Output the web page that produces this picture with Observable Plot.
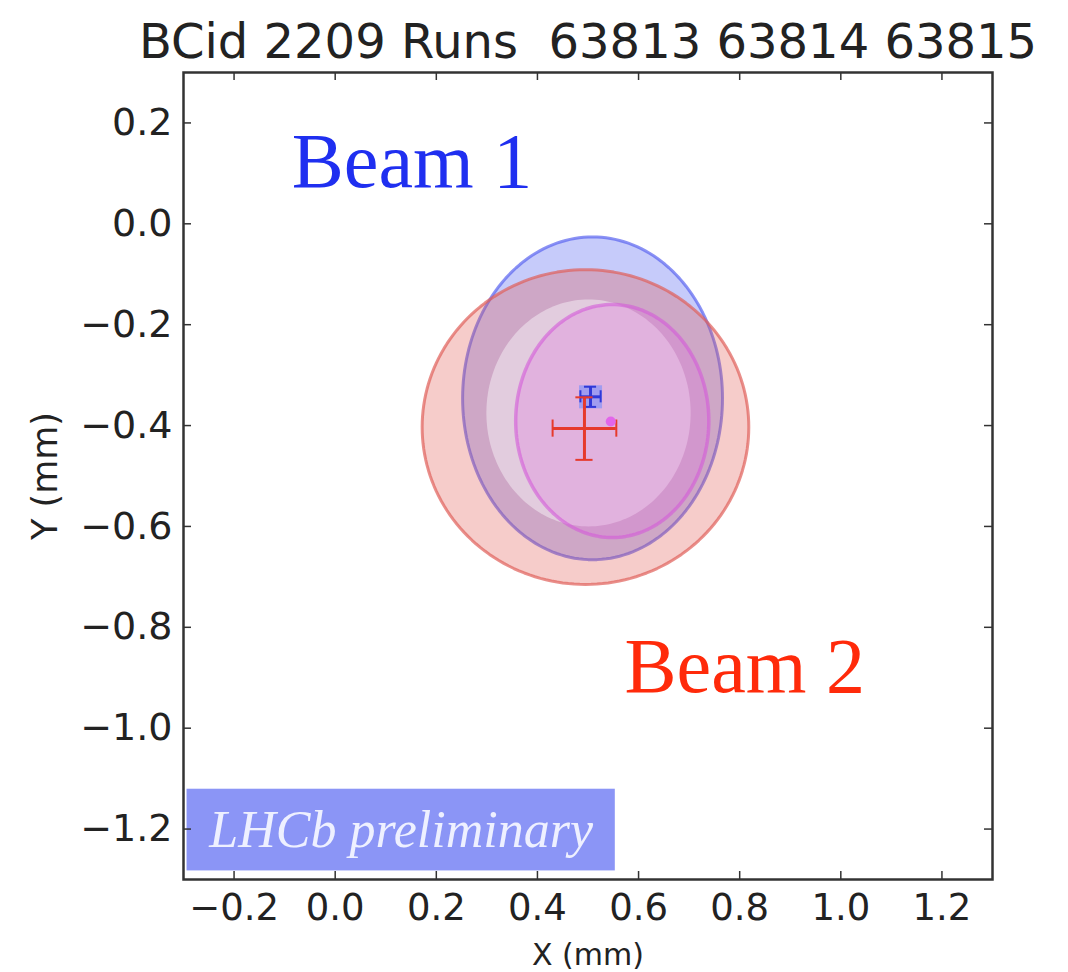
<!DOCTYPE html>
<html><head><meta charset="utf-8">
<script src="https://cdn.jsdelivr.net/npm/d3@7"></script>
<script src="https://cdn.jsdelivr.net/npm/@observablehq/plot@0.6"></script>
<style>
html,body{margin:0;padding:0;background:#fff;}
#chart{width:1068px;height:972px;}
</style></head><body><div id="chart"></div>
<script>
// ---- data ----
const title = "BCid 2209 Runs  63813 63814 63815";
const xLabel = "X (mm)";
const yLabel = "Y (mm)";
const xTicks = [-0.2, 0.0, 0.2, 0.4, 0.6, 0.8, 1.0, 1.2];
const yTicks = [-1.2, -1.0, -0.8, -0.6, -0.4, -0.2, 0.0, 0.2];

// beam spot ellipses (mm)
const spotNames = ["Beam 1", "Beam 2", "Luminous core", "Luminous region"];
const spotCx = [0.509, 0.495, 0.501, 0.548];
const spotCy = [-0.346, -0.403, -0.375, -0.391];
const spotRx = [0.257, 0.323, 0.202, 0.191];
const spotRy = [0.320, 0.312, 0.225, 0.231];

// fitted centres with errors (mm)
const centerNames = ["Beam 1", "Beam 2", "Luminous region"];
const centerX = [0.505, 0.493, 0.545];
const centerY = [-0.343, -0.406, -0.392];
const centerXErr = [0.020, 0.063, 0];
const centerYErr = [0.020, 0.062, 0];

// annotations (mm)
const beamLabels = ["Beam 1", "Beam 2"];
const beamLabelX = [0.152, 0.81];
const beamLabelY = [0.123, -0.879];
const stampText = "LHCb preliminary";
const stampX = [-0.293, 0.554];
const stampY = [-1.283, -1.121];

// ---- build ----
const outline = i => d3.range(181).map(k => {
  const t = 2 * Math.PI * k / 180;
  return {x: spotCx[i] + spotRx[i] * Math.cos(t), y: spotCy[i] + spotRy[i] * Math.sin(t)};
});
const centers = centerNames.map((n, i) => ({name: n, x: centerX[i], y: centerY[i], xe: centerXErr[i], ye: centerYErr[i]}));
const b1 = centers.filter(d => d.name === "Beam 1");
const b2 = centers.filter(d => d.name === "Beam 2");
const lum = centers.filter(d => d.name === "Luminous region");
const labels = beamLabels.map((t, i) => ({text: t, x: beamLabelX[i], y: beamLabelY[i]}));
const stamp = [{text: stampText, x1: stampX[0], x2: stampX[1], y1: stampY[0], y2: stampY[1]}];

const W = 1068, H = 972, mL = 183, mR = 76, mT = 72, mB = 93;
const innerW = W - mL - mR, innerH = H - mT - mB;
const fmt = d3.format(".1f");

function errorCross(data, color, cap, width) {
  return [
    Plot.ruleY(data, {y: "y", x1: d => d.x - d.xe, x2: d => d.x + d.xe, stroke: color, strokeWidth: width}),
    Plot.ruleX(data, {x: "x", y1: d => d.y - d.ye, y2: d => d.y + d.ye, stroke: color, strokeWidth: width}),
    Plot.ruleX(data, {x: d => d.x - d.xe, y1: d => d.y - cap, y2: d => d.y + cap, stroke: color, strokeWidth: 2}),
    Plot.ruleX(data, {x: d => d.x + d.xe, y1: d => d.y - cap, y2: d => d.y + cap, stroke: color, strokeWidth: 2}),
    Plot.ruleY(data, {y: d => d.y - d.ye, x1: d => d.x - cap, x2: d => d.x + cap, stroke: color, strokeWidth: 2}),
    Plot.ruleY(data, {y: d => d.y + d.ye, x1: d => d.x - cap, x2: d => d.x + cap, stroke: color, strokeWidth: 2})
  ];
}

const plot = Plot.plot({
  width: W, height: H,
  marginLeft: mL, marginRight: mR, marginTop: mT, marginBottom: mB,
  style: {fontFamily: "DejaVu Sans", background: "#fff", overflow: "visible"},
  x: {domain: [-0.3, 1.3]},
  y: {domain: [-1.3, 0.3]},
  marks: [
    // beam 1 spot
    Plot.line(outline(0), {x: "x", y: "y", curve: "linear-closed", fill: "#4f5cf0", fillOpacity: 0.32, stroke: "#5a64f0", strokeOpacity: 0.7, strokeWidth: 3}),
    // beam 2 spot
    Plot.line(outline(1), {x: "x", y: "y", curve: "linear-closed", fill: "#e2564f", fillOpacity: 0.3, stroke: "#e0605a", strokeOpacity: 0.7, strokeWidth: 3}),
    // luminous core
    Plot.line(outline(2), {x: "x", y: "y", curve: "linear-closed", fill: "#ffffff", fillOpacity: 0.42, stroke: "none"}),
    // luminous region
    Plot.line(outline(3), {x: "x", y: "y", curve: "linear-closed", fill: "#e070e0", fillOpacity: 0.28, stroke: "#d45ad8", strokeOpacity: 0.6, strokeWidth: 3.5}),
    // centres
    Plot.dot(b1, {x: "x", y: "y", symbol: "square", r: 13, fill: "#9096f4", fillOpacity: 0.8}),
    ...errorCross(b1, "#3038d8", 0.012, 3),
    ...errorCross(b2, "#e63a2c", 0.017, 3),
    Plot.dot(lum, {x: "x", y: "y", r: 5, fill: "#e266ea"}),
    // beam labels
    Plot.text(labels, {x: "x", y: "y", text: "text", fontFamily: "Liberation Serif", fontSize: 78,
      fill: (d) => d.text === "Beam 1" ? "#1f2ff0" : "#ff2a0a", lineAnchor: "middle"}),
    // LHCb stamp
    Plot.rect(stamp, {x1: "x1", x2: "x2", y1: "y1", y2: "y2", fill: "#8b95f6"}),
    Plot.text(stamp, {x: d => (d.x1 + d.x2) / 2, y: d => (d.y1 + d.y2) / 2, text: "text", fontFamily: "Liberation Serif",
      fontStyle: "italic", fontSize: 52, fill: "#eef0ff", lineAnchor: "middle"}),
    // ticks inside on all sides
    Plot.tickX(xTicks, {x: d => d, insetTop: innerH - 8, stroke: "#333", strokeWidth: 1.5}),
    Plot.tickX(xTicks, {x: d => d, insetBottom: innerH - 8, stroke: "#333", strokeWidth: 1.5}),
    Plot.tickY(yTicks, {y: d => d, insetRight: innerW - 8, stroke: "#333", strokeWidth: 1.5}),
    Plot.tickY(yTicks, {y: d => d, insetLeft: innerW - 8, stroke: "#333", strokeWidth: 1.5}),
    Plot.frame({stroke: "#333", strokeWidth: 2.5}),
    Plot.axisX(xTicks, {tickSize: 0, tickPadding: 14, tickFormat: fmt, fontSize: 37, label: null, fill: "#222"}),
    Plot.axisY(yTicks, {tickSize: 0, tickPadding: 11, tickFormat: fmt, fontSize: 38, label: null, fill: "#222"}),
    // titles
    Plot.text([title], {frameAnchor: "top", dy: -30, text: d => d, fontSize: 48, fill: "#222", lineAnchor: "middle"}),
    Plot.text([xLabel], {frameAnchor: "bottom", dy: 76, text: d => d, fontSize: 30, fill: "#222", lineAnchor: "middle"}),
    Plot.text([yLabel], {frameAnchor: "left", dx: -138, rotate: -90, text: d => d, fontSize: 35, fill: "#222", textAnchor: "middle", lineAnchor: "middle"})
  ]
});
document.getElementById("chart").appendChild(plot);
</script>
</body></html>
